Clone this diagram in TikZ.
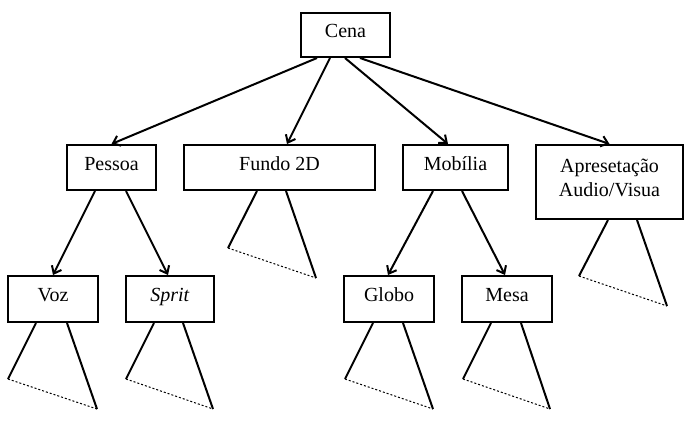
\documentclass[tikz,border=0pt]{standalone}
\usepackage{fontspec}
\setmainfont{Liberation Serif}
\usetikzlibrary{calc,arrows.meta}

\tikzset{every picture/.style={line width=1.5pt}}
\tikzset{
  boxsize/.style 2 args={minimum width=#1*0.75pt, minimum height=#2*0.75pt},
  treebox/.style={draw, rectangle, inner sep=0pt, text height=10pt, text depth=6pt,
    font=\fontsize{15}{18}\selectfont},
  link/.style={-{Straight Barb[length=5pt,width=8pt]}},
  leaf/.style={line width=0.75pt, dash pattern=on 1.5pt off 1.5pt}
}

\begin{document}
\begin{tikzpicture}[x=0.75pt,y=0.75pt,yscale=-1,xscale=1]
\useasboundingbox (0,0) rectangle (689,424);

% Boxes
\node [treebox, boxsize={89}{44}] (cena) at (345.5,35) {Cena};
\node [treebox, boxsize={89}{45}] (pessoa) at (111.5,167.5) {Pessoa};
\node [treebox, boxsize={191}{45}] (fundo) at (279.5,167.5) {Fundo 2D};
\node [treebox, boxsize={105}{45}] (mobilia) at (455.5,167.5) {Mobília};
\node [draw, rectangle, inner sep=0pt, align=center, boxsize={147}{74},
  font=\fontsize{15}{18}\selectfont, text height=26pt, text depth=4pt] (apres) at (609.5,182) {Apresetação\\Audio/Visua};
\node [treebox, boxsize={90}{46}] (voz) at (53,299) {Voz};
\node [treebox, boxsize={88}{46}] (sprit) at (170,299) {\textit{Sprit}};
\node [treebox, boxsize={90}{46}] (globo) at (389,299) {Globo};
\node [treebox, boxsize={90}{46}] (mesa) at (507,299) {Mesa};

% Arrows from Cena
\draw [link] ($(cena.south)+(-28.5,0)$) -- (pessoa.north);
\draw [link] ($(cena.south)+(-15.5,0)$) -- ($(fundo.north)+(7.5,0)$);
\draw [link] ($(cena.south)+(-0.5,0)$) -- ($(mobilia.north)+(-7.5,0)$);
\draw [link] ($(cena.south)+(14.5,0)$) -- (apres.north);

% Arrows from Pessoa and Mobilia
\draw [link] ($(pessoa.south)+(-16.5,0)$) -- (voz.north);
\draw [link] ($(pessoa.south)+(14.5,0)$) -- ($(sprit.north)+(-2,0)$);
\draw [link] ($(mobilia.south)+(-22.5,0)$) -- ($(globo.north)+(-1,0)$);
\draw [link] ($(mobilia.south)+(6.5,0)$) -- ($(mesa.north)+(-2,0)$);

% Open subtrees
\draw ($(fundo.south)+(-22.5,0)$) -- ++(-29,57) coordinate (fundoL);
\draw ($(fundo.south)+(6.5,0)$) -- ++(30,87) coordinate (fundoR);
\draw [leaf] (fundoL) -- (fundoR);

\draw ($(apres.south)+(-1.5,0)$) -- ++(-29,56) coordinate (apresL);
\draw ($(apres.south)+(27.5,0)$) -- ++(30,86) coordinate (apresR);
\draw [leaf] (apresL) -- (apresR);

\draw ($(voz.south)+(-17,0)$) -- ++(-28,56) coordinate (vozL);
\draw ($(voz.south)+(14,0)$) -- ++(30,86) coordinate (vozR);
\draw [leaf] (vozL) -- (vozR);

\draw ($(sprit.south)+(-16,0)$) -- ++(-28,56) coordinate (spritL);
\draw ($(sprit.south)+(13,0)$) -- ++(30,86) coordinate (spritR);
\draw [leaf] (spritL) -- (spritR);

\draw ($(globo.south)+(-16,0)$) -- ++(-28,56) coordinate (globoL);
\draw ($(globo.south)+(14,0)$) -- ++(30,86) coordinate (globoR);
\draw [leaf] (globoL) -- (globoR);

\draw ($(mesa.south)+(-16,0)$) -- ++(-28,56) coordinate (mesaL);
\draw ($(mesa.south)+(14,0)$) -- ++(29,86) coordinate (mesaR);
\draw [leaf] (mesaL) -- (mesaR);

\end{tikzpicture}
\end{document}
